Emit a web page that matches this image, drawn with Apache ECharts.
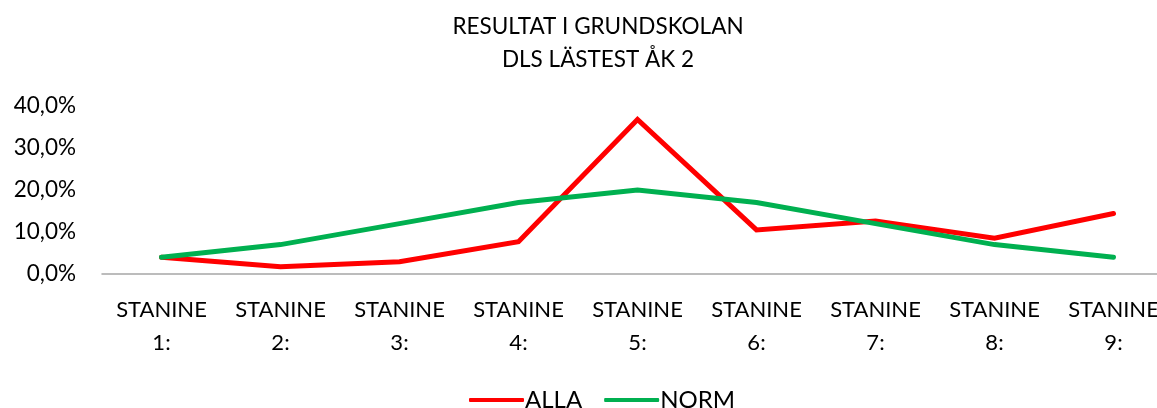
<!DOCTYPE html>
<html>
<head>
<meta charset="utf-8">
<script src="https://cdn.jsdelivr.net/npm/echarts@6/dist/echarts.min.js"></script>
<style>
    html, body { margin: 0; padding: 0; background: #fff; }
    #chart { width: 1157px; height: 408px; }
</style>
</head>
<body>
<div id="chart"></div>
<script>
'use strict';

var categories = ['STANINE\n1:', 'STANINE\n2:', 'STANINE\n3:', 'STANINE\n4:', 'STANINE\n5:',
    'STANINE\n6:', 'STANINE\n7:', 'STANINE\n8:', 'STANINE\n9:'];
var alla = [4.0, 1.7, 2.9, 7.7, 36.8, 10.5, 12.6, 8.5, 14.4];
var norm = [4, 7, 12, 17, 20, 17, 12, 7, 4];
var titleLines = ['RESULTAT I GRUNDSKOLAN', 'DLS LÄSTEST ÅK 2'];

var font = 'Lato';
var chart = echarts.init(document.getElementById('chart'));

function lineSeries(name, data, color) {
    return {
        name: name,
        type: 'line',
        data: data,
        showSymbol: false,
        symbol: 'none',
        animation: false,
        lineStyle: { color: color, width: 5, cap: 'round', join: 'miter' },
        itemStyle: { color: color }
    };
}

var option = {
    backgroundColor: '#ffffff',
    textStyle: { fontFamily: font },
    title: {
        text: titleLines.join('\n'),
        left: 593,
        top: 5,
        textAlign: 'center',
        textStyle: {
            fontFamily: font,
            fontWeight: 'normal',
            fontSize: 22.5,
            lineHeight: 33,
            color: '#000'
        }
    },
    legend: {
        top: 383,
        left: 464,
        itemWidth: 55,
        itemHeight: 4,
        itemGap: 22,
        icon: 'roundRect',
        textStyle: { fontFamily: font, fontSize: 24, color: '#000', padding: [0, 0, 0, -4] },
        data: ['ALLA', 'NORM']
    },
    grid: {
        left: 102,
        width: 1071,
        top: 106,
        height: 168,
        containLabel: false,
        outerBoundsMode: 'none'
    },
    xAxis: {
        type: 'category',
        data: categories,
        boundaryGap: true,
        axisLine: { lineStyle: { color: '#a6a6a6', width: 1.5 } },
        axisTick: { show: false },
        axisLabel: {
            interval: 0,
            margin: 19,
            fontFamily: font,
            fontSize: 22,
            lineHeight: 33,
            color: '#000'
        },
        splitLine: { show: false }
    },
    yAxis: {
        type: 'value',
        min: 0,
        max: 40,
        interval: 10,
        axisLine: { show: false },
        axisTick: { show: false },
        splitLine: { show: false },
        axisLabel: {
            margin: 26,
            fontFamily: font,
            fontSize: 22.5,
            color: '#000',
            formatter: function (v) {
                return v.toFixed(1).replace('.', ',') + '%';
            }
        }
    },
    series: [
        lineSeries('ALLA', alla, '#ff0000'),
        lineSeries('NORM', norm, '#00b050')
    ]
};

chart.setOption(option);
</script>
</body>
</html>
